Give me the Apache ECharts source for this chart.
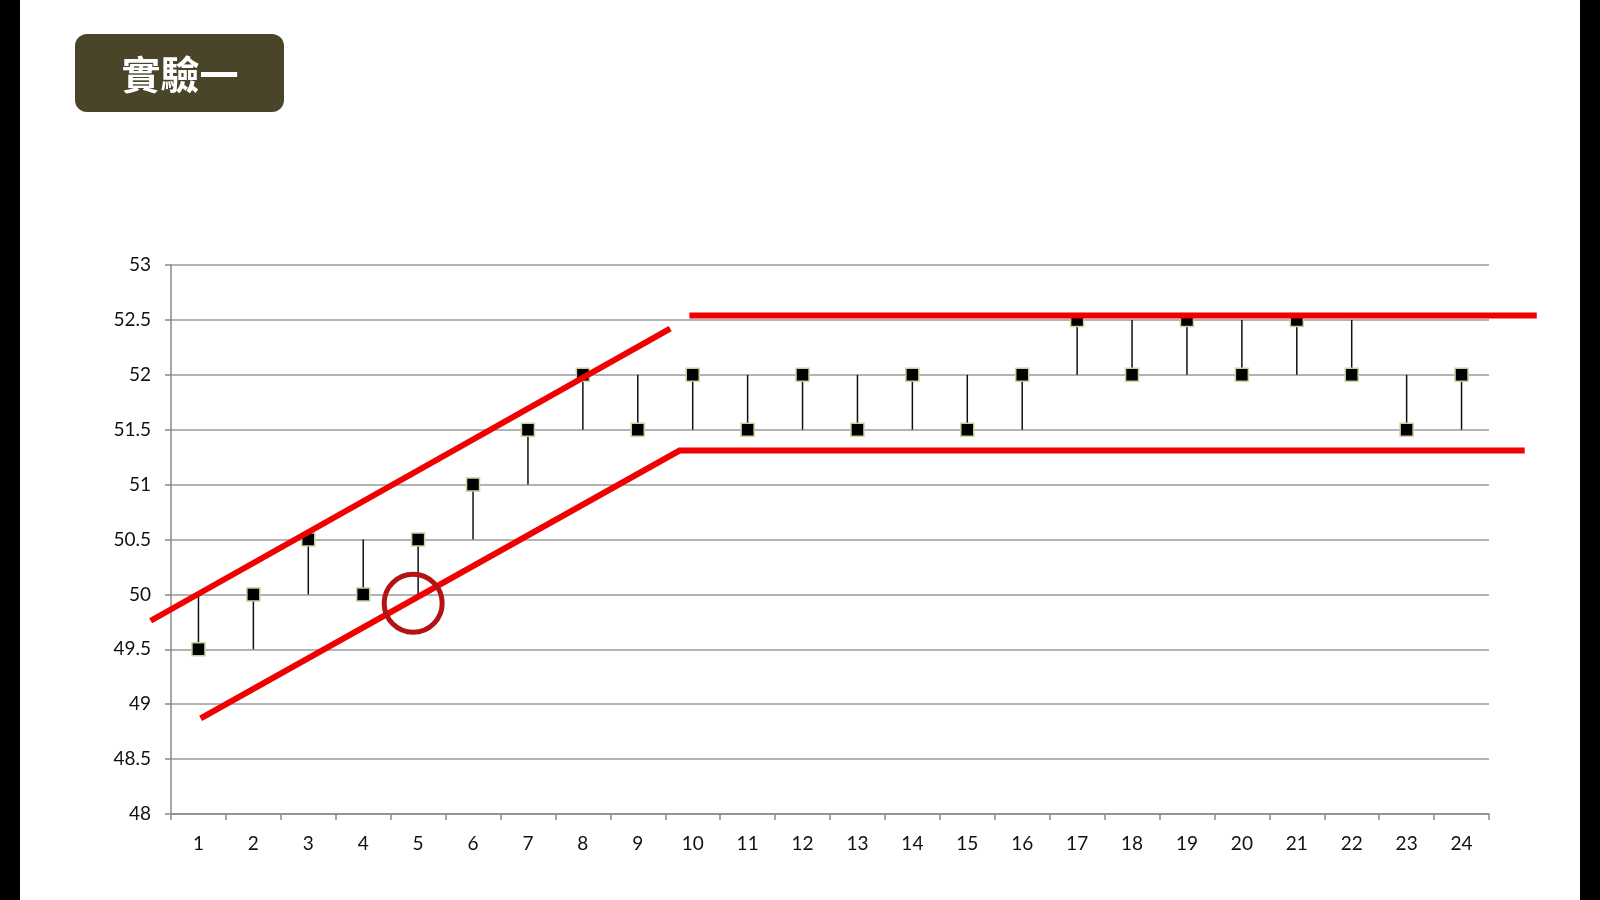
<!DOCTYPE html>
<html>
<head>
<meta charset="utf-8">
<title>實驗一</title>
<script src="https://cdn.jsdelivr.net/npm/echarts@6/dist/echarts.min.js"></script>
<style>
  html, body { margin: 0; padding: 0; background: #fff; }
  #chart { width: 1600px; height: 900px; }
</style>
</head>
<body>
<div id="chart"></div>
<script>
// 數據
var categories = ['1','2','3','4','5','6','7','8','9','10','11','12','13','14','15','16','17','18','19','20','21','22','23','24'];
var values = [49.5, 50, 50.5, 50, 50.5, 51, 51.5, 52, 51.5, 52, 51.5, 52, 51.5, 52, 51.5, 52, 52.5, 52, 52.5, 52, 52.5, 52, 51.5, 52];
// 每個點豎線的另一端
var otherEnd = [50, 49.5, 50, 50.5, 50, 50.5, 51, 51.5, 52, 51.5, 52, 51.5, 52, 51.5, 52, 51.5, 52, 52.5, 52, 52.5, 52, 52.5, 52, 51.5];
var yTicks = [48, 48.5, 49, 49.5, 50, 50.5, 51, 51.5, 52, 52.5, 53];

// 紅色趨勢線 (x 為類目序號)
var upperDiag = [[0.13, 49.76], [9.59, 52.42]];
var upperFlat = [[9.94, 52.54], [25.37, 52.54]];
var lowerBand = [[1.04, 48.87], [9.76, 51.31], [25.15, 51.31]];
var circleMark = [[4.91, 49.92]];

var stems = values.map(function (v, i) {
    return [i, v, otherEnd[i]];
});
var points = values.map(function (v, i) {
    return [i, v];
});

// 主圖區
var gLeft = 171, gRight = 111, gTop = 265, gBottom = 86;
var step = (1600 - gLeft - gRight) / categories.length;

var chart = echarts.init(document.getElementById('chart'));

chart.setOption({
    animation: false,
    backgroundColor: '#fff',
    grid: [
        { left: gLeft, right: gRight, top: gTop, bottom: gBottom },
        // 覆蓋整個寬度的隱藏網格，讓紅線可以畫到圖區外
        { left: 0, right: 0, top: gTop, bottom: gBottom }
    ],
    graphic: [
        { type: 'rect', shape: { x: 0, y: 0, width: 20, height: 900 }, style: { fill: '#000' } },
        { type: 'rect', shape: { x: 1580, y: 0, width: 20, height: 900 }, style: { fill: '#000' } },
        {
            type: 'rect',
            shape: { x: 75, y: 34, width: 209, height: 78, r: 12 },
            style: { fill: '#4a4529' }
        },
        {
            type: 'text',
            x: 180,
            y: 74,
            style: {
                text: '實驗一',
                fill: '#fff',
                font: 'bold 39px "Noto Sans CJK TC"',
                align: 'center',
                verticalAlign: 'middle'
            }
        }
    ],
    xAxis: [
        {
            type: 'category',
            gridIndex: 0,
            data: categories,
            axisLine: { lineStyle: { color: '#8a8a8a', width: 1.5 } },
            axisTick: { show: true, length: 6, lineStyle: { color: '#8a8a8a', width: 1.5 } },
            axisLabel: { color: '#111', fontSize: 19, fontFamily: 'Lato', margin: 20 },
            splitLine: { show: false }
        },
        {
            type: 'value',
            gridIndex: 1,
            min: 0.5 - gLeft / step,
            max: categories.length + 0.5 + gRight / step,
            show: false
        }
    ],
    yAxis: [
        {
            type: 'value',
            gridIndex: 0,
            min: 48,
            max: 53,
            interval: 0.5,
            axisLine: { show: true, lineStyle: { color: '#8a8a8a', width: 1.5 } },
            axisTick: { show: true, length: 6, lineStyle: { color: '#8a8a8a', width: 1.5 } },
            axisLabel: {
                color: '#111',
                fontSize: 19,
                fontFamily: 'Lato',
                margin: 20,
                formatter: function (v) { return String(v); }
            },
            splitLine: { show: true, lineStyle: { color: '#9a9a9a', width: 1.5 } }
        },
        {
            type: 'value',
            gridIndex: 1,
            min: 48,
            max: 53,
            show: false
        }
    ],
    series: [
        {
            type: 'custom',
            data: stems,
            z: 2,
            renderItem: function (params, api) {
                var p1 = api.coord([api.value(0), api.value(1)]);
                var p2 = api.coord([api.value(0), api.value(2)]);
                return {
                    type: 'line',
                    shape: { x1: p1[0], y1: p1[1], x2: p2[0], y2: p2[1] },
                    style: { stroke: '#111', lineWidth: 1.5 }
                };
            }
        },
        {
            type: 'scatter',
            data: points,
            z: 3,
            symbol: 'rect',
            symbolSize: 13,
            itemStyle: { color: '#000', borderColor: '#c3d69b', borderWidth: 1.5, opacity: 1 }
        },
        {
            type: 'line',
            xAxisIndex: 1,
            yAxisIndex: 1,
            data: upperDiag,
            z: 5,
            symbol: 'none',
            lineStyle: { color: '#f00000', width: 6 }
        },
        {
            type: 'line',
            xAxisIndex: 1,
            yAxisIndex: 1,
            data: upperFlat,
            z: 5,
            symbol: 'none',
            lineStyle: { color: '#f00000', width: 6 }
        },
        {
            type: 'line',
            xAxisIndex: 1,
            yAxisIndex: 1,
            data: lowerBand,
            z: 5,
            symbol: 'none',
            lineStyle: { color: '#f00000', width: 6, join: 'miter' }
        },
        {
            type: 'scatter',
            xAxisIndex: 1,
            yAxisIndex: 1,
            data: circleMark,
            z: 6,
            symbol: 'circle',
            symbolSize: 58,
            itemStyle: { color: 'rgba(0,0,0,0)', borderColor: '#b51313', borderWidth: 5, opacity: 1 }
        }
    ]
});
</script>
</body>
</html>
